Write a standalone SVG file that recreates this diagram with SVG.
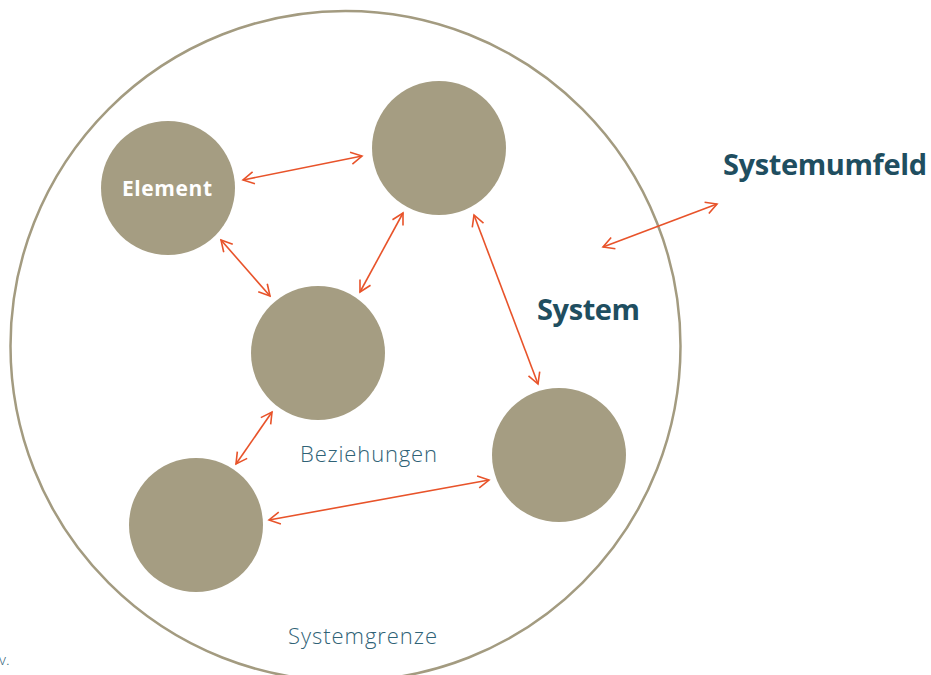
<svg xmlns="http://www.w3.org/2000/svg" width="931" height="675" viewBox="0 0 931 675">
<defs>
<marker id="ah" markerUnits="userSpaceOnUse" markerWidth="14" markerHeight="14" viewBox="0 0 14 14" refX="12" refY="7" orient="auto-start-reverse">
<path d="M1,1 L12,7 L1,13" fill="none" stroke="#e8532a" stroke-width="1.6"/>
</marker>
</defs>
<style>
.el{fill:#a59d82}
.c{stroke:#e8532a;stroke-width:1.6;fill:none;marker-start:url(#ah);marker-end:url(#ah)}
.b{font-family:"Open Sans",Lato,sans-serif;font-weight:bold;fill:#1f4e60}
.l{font-family:"Open Sans",Lato,sans-serif;font-weight:300;fill:#2f6276}
</style>
<rect width="931" height="675" fill="#fff"/>
<g id="systemgrenze">
<circle cx="345.5" cy="346" r="335" fill="none" stroke="#a39b80" stroke-width="2.5"/>
<text class="l" x="288" y="644" font-size="22" textLength="149">Systemgrenze</text>
</g>
<g id="connectors">
<line class="c" x1="243" y1="180" x2="362" y2="156"/>
<line class="c" x1="221" y1="240" x2="270" y2="296"/>
<line class="c" x1="403" y1="213" x2="360" y2="292"/>
<line class="c" x1="474" y1="215" x2="538" y2="384"/>
<line class="c" x1="272" y1="412" x2="236" y2="464"/>
<line class="c" x1="269" y1="520" x2="489" y2="480"/>
<line class="c" x1="603" y1="247" x2="717" y2="204"/>
</g>
<g id="element"><circle class="el" cx="168" cy="188" r="67"/><text x="122" y="196" font-family="'Open Sans',Lato,sans-serif" font-weight="bold" font-size="21" fill="#fff" textLength="90">Element</text></g>
<g id="n2"><circle class="el" cx="439" cy="148" r="67"/></g>
<g id="n3"><circle class="el" cx="318" cy="353" r="67"/></g>
<g id="n4"><circle class="el" cx="196" cy="525" r="67"/></g>
<g id="n5"><circle class="el" cx="559" cy="455" r="67"/></g>
<g id="system"><text class="b" x="537" y="320" font-size="29" textLength="103">System</text></g>
<g id="systemumfeld"><text class="b" x="723" y="175" font-size="29" textLength="204">Systemumfeld</text></g>
<g id="beziehungen"><text class="l" x="300" y="462" font-size="22" textLength="137">Beziehungen</text></g>
<text class="l" x="-1" y="665" font-size="15">v.</text>
</svg>
